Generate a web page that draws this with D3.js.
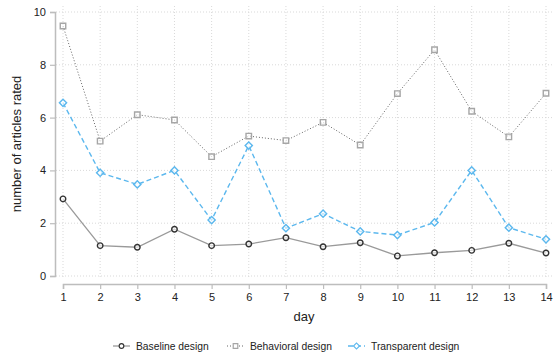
<!DOCTYPE html>
<html>
<head>
<meta charset="utf-8">
<script src="https://cdn.jsdelivr.net/npm/d3@7"></script>
<style>
  body { margin: 0; background: #fff; }
  text { font-family: "Liberation Sans", Arial, sans-serif; fill: #222; }
</style>
</head>
<body>
<div id="chart"></div>
<script>
(function () {

// Data
const days = [1, 2, 3, 4, 5, 6, 7, 8, 9, 10, 11, 12, 13, 14];
const baseline = [2.92, 1.15, 1.09, 1.77, 1.15, 1.21, 1.45, 1.11, 1.26, 0.76, 0.88, 0.97, 1.24, 0.87];
const behavioral = [9.47, 5.11, 6.11, 5.91, 4.52, 5.30, 5.13, 5.82, 4.96, 6.91, 8.57, 6.24, 5.27, 6.92];
const transparent = [6.56, 3.91, 3.47, 4.0, 2.12, 4.94, 1.81, 2.36, 1.69, 1.55, 2.03, 4.0, 1.83, 1.39];
const yTicks = [0, 2, 4, 6, 8, 10];
const seriesNames = ["Baseline design", "Behavioral design", "Transparent design"];

const width = 554, height = 360;

const svg = d3.select("#chart").append("svg")
    .attr("width", width)
    .attr("height", height);

// Scales
const x = d3.scaleLinear().domain([1, 14]).range([63, 546]);
const y = d3.scaleLinear().domain([0, 10]).range([276, 12]);

// Grid
svg.append("g").selectAll("line")
    .data(yTicks)
    .enter().append("line")
    .attr("x1", 56).attr("x2", 552)
    .attr("y1", d => y(d)).attr("y2", d => y(d))
    .attr("stroke", "#d9d9d9")
    .attr("stroke-dasharray", "1,2");

svg.append("g").selectAll("line")
    .data(days)
    .enter().append("line")
    .attr("x1", d => x(d)).attr("x2", d => x(d))
    .attr("y1", 6).attr("y2", 279)
    .attr("stroke", "#d9d9d9")
    .attr("stroke-dasharray", "1,2");

// Axes
const yAxis = svg.append("g")
    .attr("transform", "translate(55,0)")
    .call(d3.axisLeft(y).tickValues(yTicks).tickSize(5).tickPadding(4));

const xAxis = svg.append("g")
    .attr("transform", "translate(0,284)")
    .call(d3.axisBottom(x).tickValues(days).tickFormat(d3.format("d")).tickSize(5).tickPadding(4));

[yAxis, xAxis].forEach(g => {
    g.select(".domain").attr("stroke", "#bdbdbd").attr("stroke-width", 1.5);
    g.selectAll(".tick line").attr("stroke", "#bdbdbd").attr("stroke-width", 1.2);
    g.selectAll(".tick text")
        .style("font-family", "'Liberation Sans', Arial, sans-serif")
        .style("font-size", "11px")
        .attr("fill", "#333");
});

// Axis titles
svg.append("text")
    .attr("transform", "translate(21,144) rotate(-90)")
    .attr("text-anchor", "middle")
    .style("font-size", "13px")
    .text("number of articles rated");

svg.append("text")
    .attr("x", 304)
    .attr("y", 321)
    .attr("text-anchor", "middle")
    .style("font-size", "13px")
    .text("day");

// Series
const series = [
    { name: seriesNames[0], values: baseline, line: "#9a9a9a", dash: null, width: 1.3,
      mark: "#333", shape: d3.symbolCircle, size: 24, rot: 0 },
    { name: seriesNames[1], values: behavioral, line: "#666", dash: "1,2", width: 1,
      mark: "#a6a6a6", shape: d3.symbolSquare, size: 30, rot: 0 },
    { name: seriesNames[2], values: transparent, line: "#5cb8ee", dash: "5,3", width: 1.4,
      mark: "#5cb8ee", shape: d3.symbolSquare, size: 26, rot: 45 }
];

const line = d3.line()
    .x((d, i) => x(days[i]))
    .y(d => y(d));

series.forEach(s => {
    svg.append("path")
        .datum(s.values)
        .attr("fill", "none")
        .attr("stroke", s.line)
        .attr("stroke-width", s.width)
        .attr("stroke-dasharray", s.dash)
        .attr("d", line);

    svg.append("g").selectAll("path")
        .data(s.values)
        .enter().append("path")
        .attr("transform", (d, i) => `translate(${x(days[i])},${y(d)}) rotate(${s.rot})`)
        .attr("d", d3.symbol().type(s.shape).size(s.size))
        .attr("fill", "#fff")
        .attr("fill-opacity", 0.6)
        .attr("stroke", s.mark)
        .attr("stroke-width", 1.4);
});

// Legend
const legendX = [113, 227, 348];
const legend = svg.append("g");
series.forEach((s, i) => {
    const g = legend.append("g").attr("transform", `translate(${legendX[i]},346)`);
    g.append("line")
        .attr("x1", 0).attr("x2", 17)
        .attr("stroke", s.line)
        .attr("stroke-width", s.width)
        .attr("stroke-dasharray", s.dash);
    g.append("path")
        .attr("transform", `translate(8.5,0) rotate(${s.rot})`)
        .attr("d", d3.symbol().type(s.shape).size(s.size * 0.7))
        .attr("fill", "#fff")
        .attr("stroke", s.mark)
        .attr("stroke-width", 1.2);
    g.append("text")
        .attr("x", 23)
        .attr("dy", "0.35em")
        .style("font-size", "10.3px")
        .text(s.name);
});

})();
</script>
</body>
</html>
